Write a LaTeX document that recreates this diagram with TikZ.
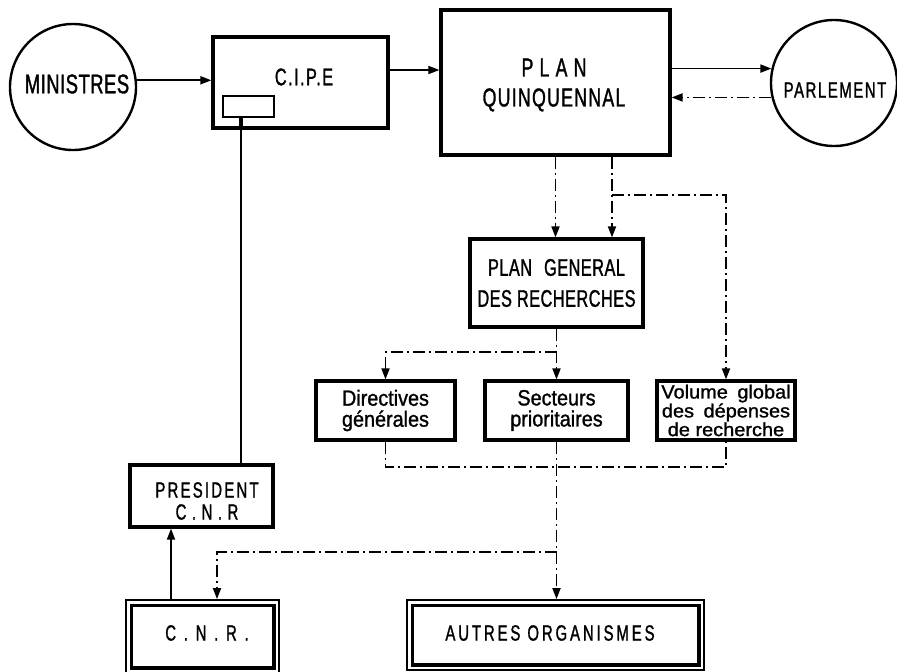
\documentclass[tikz,border=0pt]{standalone}
\usepackage{fontspec}
\newfontfamily\labfont[FakeStretch=0.68,FakeBold=1.2]{Liberation Sans}
\newfontfamily\lowfont[FakeStretch=0.9,FakeBold=1.2]{Liberation Sans}
\newfontfamily\volfont[FakeStretch=1.05,FakeBold=1.2]{Liberation Sans}
\usetikzlibrary{arrows.meta,calc}
\begin{document}
\begin{tikzpicture}[x=1pt,y=-1pt,
  box/.style={draw, line width=3.2pt, inner sep=0pt, align=center},
  thinbox/.style={draw, line width=1.8pt, inner sep=0pt, align=center},
  circ/.style={draw, circle, line width=2.4pt, inner sep=0pt},
  caps/.style={align=center, inner sep=0pt},
  conn/.style={line width=1.8pt},
  dd/.style={line width=1.8pt, dash pattern=on 12pt off 4pt on 2pt off 4pt},
  arr/.style={-{Triangle[length=11pt,width=8pt]}}]
\useasboundingbox (0,0) rectangle (897,672);

% top row
\node[circ, minimum size=126pt] (min) at (73,87) {};
\node[caps, font=\labfont\fontsize{27}{28}\selectfont\addfontfeature{LetterSpace=2}] (mintxt) at (77,84) {MINISTRES};

\node[box, minimum width=175pt, minimum height=91pt] (cipe) at (300.5,82.5) {};
\node[caps, font=\labfont\fontsize{24}{28}\selectfont\addfontfeature{LetterSpace=6}] (cipetxt) at (304,77) {C.I.P.E};
\node[draw, line width=2.4pt, minimum width=51pt, minimum height=21pt, inner sep=0pt] (cipein) at (248.5,106.5) {};

\node[box, minimum width=229pt, minimum height=145pt] (plan) at (555.5,82.5) {};
\node[caps, font=\labfont\fontsize{26}{30}\selectfont\addfontfeature{LetterSpace=5}] (plantxt) at (554,85) {{\addfontfeature{LetterSpace=24}PLAN}\\QUINQUENNAL};

\node[circ, minimum size=126pt] (parl) at (834,83) {};
\node[caps, font=\labfont\fontsize{22}{28}\selectfont\addfontfeature{LetterSpace=7}] (parltxt) at (835,90) {PARLEMENT};

% middle
\node[box, minimum width=173pt, minimum height=88pt, font=\labfont\fontsize{24}{31}\selectfont\addfontfeature{LetterSpace=2}] (pgr) at (556.5,283) {PLAN\hspace{12pt}GENERAL\\DES RECHERCHES};

\node[box, minimum width=139pt, minimum height=59pt, font=\lowfont\fontsize{22}{21}\selectfont] (dir) at (385.5,410.5) {Directives\\générales};
\node[box, minimum width=143pt, minimum height=59pt, font=\lowfont\fontsize{22}{21}\selectfont] (sec) at (556.5,410.5) {Secteurs\\prioritaires};
\node[box, minimum width=138pt, minimum height=59pt, font=\volfont\fontsize{19}{17.5}\selectfont] (vol) at (726,410.5) {Volume\enspace global\\des\enspace dépenses\\de recherche};

% left
\node[box, minimum width=143pt, minimum height=62pt] (pres) at (201.5,496) {};
\node[caps, font=\labfont\fontsize{22}{22}\selectfont] (prestxt) at (207,501) {{\addfontfeature{LetterSpace=10}PRESIDENT}\\{\addfontfeature{LetterSpace=25}C.N.R}};

% bottom double frames
\node[thinbox, minimum width=153pt, minimum height=73pt] (cnr) at (202.5,636.5) {};
\draw[line width=3.2pt] ($(cnr.north west)+(6,6)$) rectangle ($(cnr.south east)+(-6,-6)$);
\node[caps, font=\labfont\fontsize{22}{22}\selectfont\addfontfeature{LetterSpace=35}] (cnrtxt) at (207,633) {C.N.R.};

\node[thinbox, minimum width=297pt, minimum height=70pt] (aut) at (555.5,635) {};
\draw[line width=3.2pt] ($(aut.north west)+(6,6)$) rectangle ($(aut.south east)+(-6,-6)$);
\node[caps, font=\labfont\fontsize{22}{22}\selectfont\addfontfeature{LetterSpace=13}] (auttxt) at (550,633) {AUTRES ORGANISMES};

% solid connectors
\draw[conn,arr] (min.6) -- (min.6 -| cipe.west);
\draw[conn,arr] ([yshift=12.5pt]cipe.east) -- ([yshift=12.5pt]cipe.east -| plan.west);
\draw[conn,arr] (plan.east |- parl.167) -- (parl.167);
\draw[dd,arr] (parl.193) -- (parl.193 -| plan.east);
\draw[conn] ([xshift=-7.5pt]cipein.south) -- ([xshift=-7.5pt]cipein.south |- pres.north);
\draw[line width=4pt] ([xshift=-7.5pt]cipein.south) -- ([xshift=-7.5pt]cipein.south |- cipe.south);
\draw[conn,arr] ([xshift=-31.5pt]cnr.north) -- ([xshift=-31.5pt]cnr.north |- pres.south);

% dash-dot connectors
\coordinate (j1) at (612,195);
\coordinate (j2) at (556.5,352);
\coordinate (j3) at (0,467);
\coordinate (j4) at (0,552);
\draw[dd,arr] (plan.south) -- (plan.south |- pgr.north);
\draw[dd,arr] (j1 |- plan.south) -- (j1 |- pgr.north);
\draw[dd,arr] (j1) -| (vol.north);
\draw[dd,arr] (pgr.south) -- (sec.north);
\draw[dd,arr] (j2) -| (dir.north);
\draw[dd] (dir.south) |- (vol.south |- j3) -- (vol.south);
\draw[dd,arr] (sec.south) -- (sec.south |- aut.north);
\draw[dd,arr] (sec.south |- j4) -| ([xshift=14.5pt]cnr.north);
\end{tikzpicture}
\end{document}
